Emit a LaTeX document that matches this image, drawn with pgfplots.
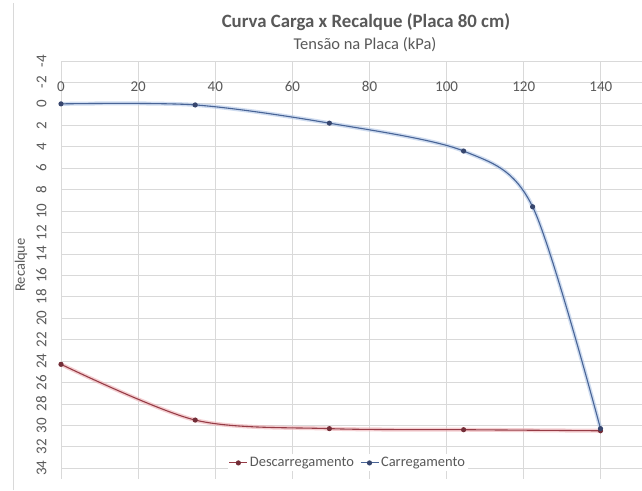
\documentclass[border=0pt]{standalone}
\usepackage{fontspec}
\setmainfont{Carlito}
\usepackage{pgfplots}
\pgfplotsset{compat=1.18}
\definecolor{txt}{RGB}{89,89,89}
\definecolor{gridc}{RGB}{217,217,217}
\definecolor{blueL}{RGB}{72,100,150}
\definecolor{blueG}{RGB}{175,198,230}
\definecolor{blueM}{RGB}{55,70,110}
\definecolor{redL}{RGB}{150,60,70}
\definecolor{redG}{RGB}{238,175,180}
\definecolor{redM}{RGB}{115,45,55}
\begin{document}
\begin{tikzpicture}
\useasboundingbox (0pt,0pt) rectangle (642pt,490pt);
\clip (0pt,0pt) rectangle (642pt,490pt);
\fill[white] (0pt,0pt) rectangle (642pt,490pt);
\draw[gridc, line width=0.8pt] (13pt,0pt) -- (13pt,487pt);
\node[font=\bfseries\fontsize{18.8}{21}\selectfont, text=txt] at (366pt,468pt) {Curva Carga x Recalque (Placa 80 cm)};
\node[font=\fontsize{16.5}{19}\selectfont, text=txt] at (365pt,445pt) {Tensão na Placa (kPa)};
\node[font=\fontsize{14.5}{17}\selectfont, text=txt, rotate=90] at (21pt,225pt) {Recalque};
\begin{axis}[
  at={(61pt,429pt)}, anchor=north west,
  scale only axis, width=617pt, height=418pt,
  xmin=0, xmax=160, ymin=-4, ymax=35, y dir=reverse,
  xtick={0,20,...,140}, ytick={-4,-2,...,34},
  grid=major, grid style={gridc, line width=0.8pt},
  axis line style={draw=none},
  major tick length=0pt,
  /pgf/number format/assume math mode=true,
  tick label style={font=\fontsize{15}{18}\selectfont, text=txt},
  xticklabel pos=upper, xticklabel shift=-34pt,
  yticklabel style={rotate=90, anchor=south},
  yticklabel shift=11pt,
  legend style={at={(axis cs:74.4,33.5)}, anchor=center, draw=none, fill=white,
    font=\fontsize{14.5}{17}\selectfont, text=txt, inner sep=1pt,
    /tikz/every even column/.append style={column sep=4pt}},
  legend columns=2,
  legend image code/.code={\draw[mark repeat=2, mark phase=2, #1] plot coordinates {(0pt,0pt) (9pt,0pt) (18pt,0pt)};},
]
\addplot[redG, line width=4pt, opacity=0.6, smooth, forget plot] coordinates {(0,24.3) (34.8,29.5) (69.6,30.3) (104.4,30.4) (139.9,30.5)};
\addplot[blueG, line width=4pt, opacity=0.6, smooth, forget plot] coordinates {(0,0) (34.8,0.1) (69.6,1.8) (104.4,4.4) (122.3,9.6) (139.9,30.3)};
\addplot[redL, line width=1.1pt, smooth, mark=*, mark size=2pt, mark options={fill=redM, draw=redM}] coordinates {(0,24.3) (34.8,29.5) (69.6,30.3) (104.4,30.4) (139.9,30.5)};
\addlegendentry{Descarregamento}
\addplot[blueL, line width=1.1pt, smooth, mark=*, mark size=2pt, mark options={fill=blueM, draw=blueM}] coordinates {(0,0) (34.8,0.1) (69.6,1.8) (104.4,4.4) (122.3,9.6) (139.9,30.3)};
\addlegendentry{Carregamento}
\end{axis}
\end{tikzpicture}
\end{document}
